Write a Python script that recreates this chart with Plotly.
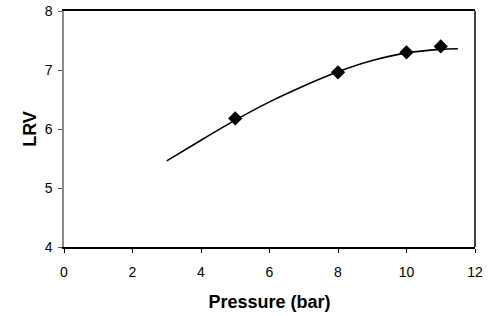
import plotly.graph_objects as go

pressure = [5, 8, 10, 11]
lrv = [6.18, 6.96, 7.30, 7.40]

fit_x = [3, 4, 5, 6, 7, 8, 9, 10, 11, 11.5]
fit_y = [5.46, 5.81, 6.15, 6.46, 6.73, 6.97, 7.16, 7.29, 7.35, 7.36]

x_ticks = [0, 2, 4, 6, 8, 10, 12]
y_ticks = [4, 5, 6, 7, 8]

fig = go.Figure()
fig.add_trace(go.Scatter(x=fit_x, y=fit_y, mode="lines",
                         line=dict(color="black", width=1.6, shape="spline", smoothing=0.8),
                         showlegend=False, hoverinfo="skip"))
fig.add_trace(go.Scatter(x=pressure, y=lrv, mode="markers",
                         marker=dict(symbol="diamond", size=11, color="black"),
                         showlegend=False))

fig.update_layout(
    width=492, height=316,
    margin=dict(l=64, r=17, t=11, b=69),
    paper_bgcolor="white", plot_bgcolor="white",
    font=dict(family="Liberation Sans, Arial, sans-serif", color="black", size=14),
    xaxis=dict(range=[0, 12], tickvals=x_ticks, showgrid=False, zeroline=False,
               showline=True, linecolor="black", linewidth=1.5, mirror=True,
               ticks="outside", ticklen=4, tickcolor="black", automargin=False,
               ticklabelstandoff=7, ticklabeloverflow="allow",
               title=dict(text="<b>Pressure (bar)</b>", font=dict(size=18), standoff=17)),
    yaxis=dict(range=[4, 8], tickvals=y_ticks, showgrid=False, zeroline=False,
               showline=True, linecolor="#8a8a8a", linewidth=1.5,
               ticks="outside", ticklen=4, tickcolor="#555", automargin=False,
               ticklabelstandoff=3, ticklabeloverflow="allow",
               title=dict(text="<b>LRV</b>", font=dict(size=18), standoff=3)),
    shapes=[dict(type="line", xref="paper", yref="paper", x0=1, x1=1, y0=0, y1=1,
                 line=dict(color="black", width=1.5))],
)

fig.write_html("out.html", config={"displayModeBar": False},
               post_script="document.body.style.margin='0';")
